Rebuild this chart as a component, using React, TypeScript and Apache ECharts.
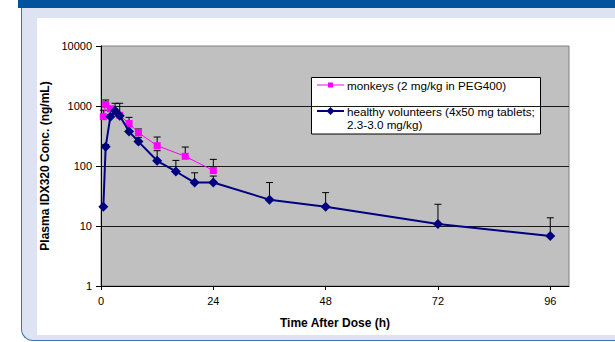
import React, { useEffect, useRef } from "react";
import * as echarts from "echarts";

const xTicks = [0, 24, 48, 72, 96];

const volunteerHours = [0.5, 1, 2, 3, 4, 6, 8, 12, 16, 20, 24, 36, 48, 72, 96];
const volunteerConc = [21, 210, 660, 830, 690, 375, 255, 122, 81, 53, 53, 27.5, 21, 10.8, 6.8];
const volunteerUpper = [null, 228, 720, 1110, 1110, 450, 300, 180, 124, 77, 68, 53, 36, 23, 13.7];

const monkeyHours = [0.5, 1, 2, 4, 6, 8, 12, 18, 24];
const monkeyConc = [664, 1060, 900, 700, 510, 359, 218, 145, 84];
const monkeyUpper = [850, 1260, null, null, 647, 414, 304, 207, 129];

const monkeyName = "monkeys (2 mg/kg in PEG400)";
const volunteerName1 = "healthy volunteers (4x50 mg tablets;";
const volunteerName2 = "2.3-3.0 mg/kg)";

const FONT = "'Liberation Sans', Arial, sans-serif";

function errorData(xs: number[], ys: number[], ups: (number | null)[]) {
  const out: any[] = [];
  xs.forEach((x, i) => {
    const u = ups[i];
    if (u != null) out.push([x, ys[i], u]);
  });
  return out;
}

function errorSeries(data: any[]) {
  return {
    type: "custom",
    z: 1,
    renderItem: (params: any, api: any) => {
      const x = api.value(0);
      const y = api.value(1);
      const hi = api.value(2);
      const p0 = api.coord([x, y]);
      const p1 = api.coord([x, hi]);
      return {
        type: "group",
        children: [
          {
            type: "line",
            shape: { x1: p0[0], y1: p0[1], x2: p1[0], y2: p1[1] },
            style: { stroke: "#000", lineWidth: 1 },
          },
          {
            type: "line",
            shape: { x1: p1[0] - 3.5, y1: p1[1], x2: p1[0] + 3.5, y2: p1[1] },
            style: { stroke: "#000", lineWidth: 1 },
          },
        ],
      };
    },
    encode: { x: 0, y: 1 },
    data,
    silent: true,
  };
}

export default function App() {
  const ref = useRef<HTMLDivElement>(null);

  useEffect(() => {
    if (!ref.current) return;
    const chart = echarts.init(ref.current, undefined, { renderer: "svg" });
    const lx = 317;
    const lx2 = 344;
    const lcx = (lx + lx2) / 2;
    const legendFont = `11.7px ${FONT}`;
    chart.setOption({
      animation: false,
      backgroundColor: "transparent",
      textStyle: { fontFamily: FONT },
      grid: {
        left: 101,
        top: 46,
        right: 46,
        bottom: 56,
        show: true,
        backgroundColor: "#C0C0C0",
        borderColor: "#808080",
        borderWidth: 1,
      },
      xAxis: {
        type: "value",
        min: 0,
        max: 100,
        interval: 24,
        name: "Time After Dose (h)",
        nameLocation: "middle",
        nameGap: 31,
        nameTextStyle: { fontFamily: FONT, fontSize: 12, fontWeight: "bold", color: "#000" },
        axisLine: { show: true, onZero: false, lineStyle: { color: "#000", width: 1 } },
        axisTick: { show: true, length: 4, inside: false, customValues: xTicks, lineStyle: { color: "#000" } },
        axisLabel: { customValues: xTicks, margin: 9, fontFamily: FONT, fontSize: 11, color: "#000" },
        splitLine: { show: false },
      },
      yAxis: {
        type: "log",
        logBase: 10,
        min: 1,
        max: 10000,
        splitNumber: 4,
        name: "Plasma IDX320 Conc. (ng/mL)",
        nameLocation: "middle",
        nameGap: 47,
        nameTextStyle: { fontFamily: FONT, fontSize: 12, fontWeight: "bold", color: "#000" },
        axisLine: { show: true, lineStyle: { color: "#000", width: 1 } },
        axisTick: { show: true, length: 5, lineStyle: { color: "#000" } },
        axisLabel: {
          margin: 9,
          fontFamily: FONT,
          fontSize: 11,
          color: "#000",
          formatter: (v: number) => String(Math.round(v)),
        },
        splitLine: { show: true, showMinLine: false, showMaxLine: false, lineStyle: { color: "#1a1a1a", width: 1 } },
      },
      series: [
        errorSeries(errorData(volunteerHours, volunteerConc, volunteerUpper)),
        errorSeries(errorData(monkeyHours, monkeyConc, monkeyUpper)),
        {
          type: "line",
          name: monkeyName,
          z: 3,
          data: monkeyHours.map((x, i) => [x, monkeyConc[i]]),
          symbol: "rect",
          symbolSize: 7,
          itemStyle: { color: "#FF00FF" },
          lineStyle: { color: "#FF00FF", width: 1 },
        },
        {
          type: "line",
          name: volunteerName1,
          z: 4,
          data: volunteerHours.map((x, i) => [x, volunteerConc[i]]),
          symbol: "diamond",
          symbolSize: 10,
          itemStyle: { color: "#000080" },
          lineStyle: { color: "#000080", width: 2 },
        },
      ],
      graphic: [
        {
          type: "group",
          z: 100,
          children: [
            {
              type: "rect",
              shape: { x: 311.5, y: 77.5, width: 229, height: 56.5 },
              style: { fill: "#fff", stroke: "#000", lineWidth: 1 },
            },
            {
              type: "line",
              shape: { x1: lx, y1: 85, x2: lx2, y2: 85 },
              style: { stroke: "#FF00FF", lineWidth: 1 },
            },
            {
              type: "rect",
              shape: { x: lcx - 2.5, y: 82.5, width: 5, height: 5 },
              style: { fill: "#FF00FF" },
            },
            {
              type: "line",
              shape: { x1: lx, y1: 111, x2: lx2, y2: 111 },
              style: { stroke: "#000080", lineWidth: 2 },
            },
            {
              type: "polygon",
              shape: { points: [[lcx, 107], [lcx + 4, 111], [lcx, 115], [lcx - 4, 111]] },
              style: { fill: "#000080" },
            },
            {
              type: "text",
              x: 347,
              y: 85,
              style: { text: monkeyName, font: legendFont, fill: "#000", verticalAlign: "middle", align: "left" },
            },
            {
              type: "text",
              x: 347,
              y: 111,
              style: { text: volunteerName1, font: legendFont, fill: "#000", verticalAlign: "middle", align: "left" },
            },
            {
              type: "text",
              x: 347,
              y: 124.5,
              style: { text: volunteerName2, font: legendFont, fill: "#000", verticalAlign: "middle", align: "left" },
            },
          ],
        },
      ],
    });
    return () => chart.dispose();
  }, []);

  return (
    <div style={{ position: "fixed", left: 0, top: 0, width: 615, height: 342, background: "#fff", overflow: "hidden" }}>
      <div
        style={{
          position: "absolute",
          left: 20.5,
          top: 0,
          width: 620,
          height: 340,
          background: "#DDE3F2",
          borderLeft: "1.5px solid #3F72B5",
          borderBottom: "1.5px solid #3F72B5",
          borderBottomLeftRadius: 12,
        }}
      />
      <div style={{ position: "absolute", left: 18, top: 0, width: 597, height: 8, background: "#03529D" }} />
      <div style={{ position: "absolute", left: 37, top: 18, width: 578, height: 317, background: "#fff" }} />
      <div ref={ref} style={{ position: "absolute", left: 0, top: 0, width: 615, height: 342 }} />
    </div>
  );
}
